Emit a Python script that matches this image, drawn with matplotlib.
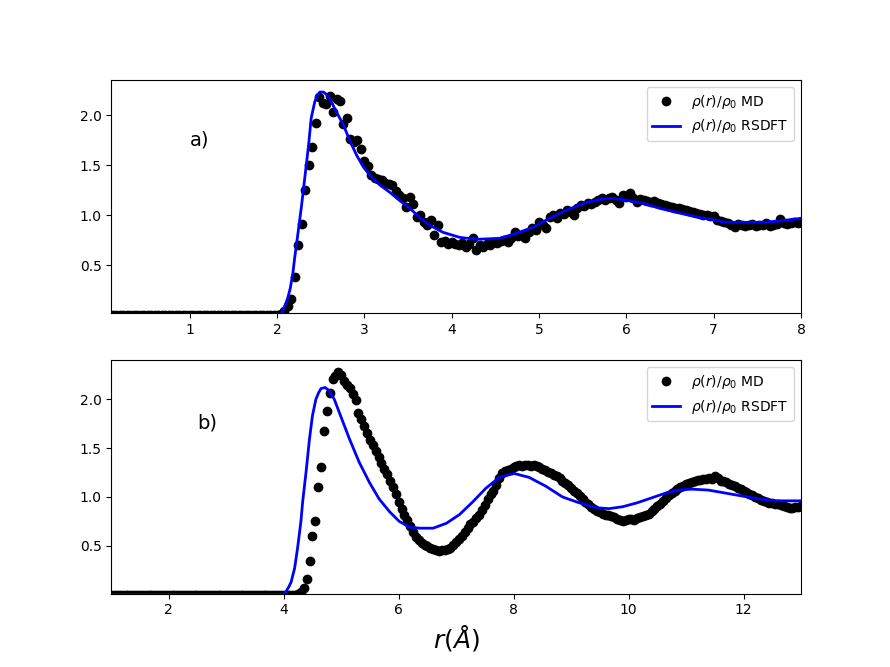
import numpy as np
import matplotlib
matplotlib.use('Agg')
import matplotlib.pyplot as plt

# a) MD points: uniform r grid (0.04) starting at 0.12, zeros before r = 2.0
g_md_a = [0.0] * 47 + [
    0.00, 0.01, 0.04, 0.09, 0.16, 0.38, 0.70, 0.91, 1.25, 1.50, 1.68, 1.92, 2.18,
    2.12, 2.11, 2.19, 2.03, 2.16, 2.14, 1.91, 1.97, 1.76, 1.73, 1.75, 1.66,
    1.54, 1.49, 1.40, 1.37, 1.36, 1.35, 1.32, 1.31, 1.30, 1.24, 1.20, 1.17, 1.08,
    1.18, 1.11, 0.98, 1.00, 0.93, 0.90, 0.95, 0.80, 0.90, 0.73, 0.74, 0.71,
    0.73, 0.71, 0.70, 0.72, 0.68, 0.71, 0.77, 0.65, 0.70, 0.68, 0.71, 0.70, 0.73,
    0.72, 0.74, 0.75, 0.73, 0.77, 0.83, 0.79, 0.80, 0.77, 0.83, 0.87, 0.85,
    0.93, 0.90, 0.87, 0.98, 1.00, 0.97, 1.02, 1.01, 1.05, 1.03, 1.00, 1.07, 1.10,
    1.09, 1.12, 1.11, 1.13, 1.15, 1.17, 1.15, 1.17, 1.18, 1.15, 1.12, 1.20,
    1.18, 1.22, 1.17, 1.13, 1.16, 1.15, 1.14, 1.13, 1.14, 1.12, 1.11, 1.10, 1.09,
    1.08, 1.07, 1.07, 1.06, 1.05, 1.04, 1.03, 1.02, 1.01, 1.00, 1.00, 0.99,
    0.99, 0.95, 0.94, 0.93, 0.92, 0.90, 0.88, 0.91, 0.90, 0.89, 0.90, 0.91, 0.89,
    0.90, 0.90, 0.92, 0.89, 0.90, 0.91, 0.96, 0.92, 0.91, 0.92, 0.93, 0.92,
    0.93]
r_md_a = 0.12 + 0.04 * np.arange(len(g_md_a))

# a) RSDFT curve
r_dft_a = [0.1, 2.00, 2.05, 2.09, 2.12, 2.15, 2.18, 2.20, 2.24, 2.28, 2.32, 2.36,
           2.39, 2.43, 2.46, 2.49, 2.53, 2.56, 2.60, 2.68, 2.76, 2.83, 2.91, 2.99,
           3.08, 3.18, 3.29, 3.40, 3.52, 3.63, 3.75, 3.90, 4.09, 4.28, 4.55, 4.74,
           4.93, 5.12, 5.31, 5.51, 5.70, 5.85, 6.00, 6.19, 6.38, 6.57, 6.77, 6.96,
           7.15, 7.34, 7.53, 7.72, 8.00]
g_dft_a = [0.0, 0.0, 0.02, 0.10, 0.17, 0.27, 0.42, 0.57, 0.83, 1.10, 1.40, 1.70,
           1.97, 2.13, 2.20, 2.23, 2.23, 2.21, 2.17, 2.03, 1.90, 1.75, 1.60, 1.48,
           1.38, 1.30, 1.23, 1.15, 1.07, 0.98, 0.90, 0.83, 0.78, 0.76, 0.77, 0.82,
           0.88, 0.97, 1.05, 1.12, 1.16, 1.17, 1.15, 1.12, 1.07, 1.03, 0.99, 0.96,
           0.93, 0.93, 0.93, 0.94, 0.97]

# b) MD points: uniform r grid (0.05) starting at 1.0, zeros up to r = 4.10
g_md_b = [0.0] * 63 + [
    0.00, 0.00, 0.01, 0.03, 0.07, 0.16, 0.34, 0.60, 0.75, 1.10, 1.31, 1.68, 1.88,
    2.06, 2.21, 2.24, 2.28,
    2.25, 2.19, 2.15, 2.12, 2.05, 1.99, 1.86, 1.80, 1.73, 1.65,
    1.58, 1.53, 1.47, 1.41, 1.35, 1.29, 1.23, 1.16, 1.10, 1.03,
    0.95, 0.88, 0.81, 0.76, 0.70, 0.64, 0.59, 0.56, 0.53, 0.51,
    0.50, 0.48, 0.47, 0.46, 0.45, 0.46, 0.46, 0.47, 0.48, 0.51,
    0.54, 0.57, 0.60, 0.64, 0.68, 0.72, 0.74, 0.78, 0.82, 0.87,
    0.92, 0.98, 1.03, 1.06, 1.12, 1.19, 1.25, 1.27, 1.28, 1.29,
    1.31, 1.32, 1.33, 1.32, 1.33, 1.33, 1.32, 1.33, 1.32, 1.31,
    1.29, 1.28, 1.26, 1.24, 1.22, 1.21, 1.19, 1.16, 1.14, 1.12,
    1.09, 1.06, 1.04, 1.01, 0.98, 0.95, 0.93, 0.90, 0.88, 0.86,
    0.85, 0.83, 0.82, 0.81, 0.80, 0.79, 0.77, 0.76, 0.75, 0.76,
    0.77, 0.77, 0.76, 0.78, 0.79, 0.80, 0.82, 0.83, 0.86, 0.88,
    0.91, 0.93, 0.96, 0.99, 1.02, 1.04, 1.06, 1.08, 1.10, 1.11,
    1.13, 1.14, 1.15, 1.16, 1.17, 1.17, 1.18, 1.18, 1.19, 1.18,
    1.21, 1.19, 1.16, 1.16, 1.15, 1.13, 1.12, 1.11, 1.09, 1.08,
    1.06, 1.05, 1.03, 1.02, 1.00, 0.99, 0.97, 0.96, 0.95, 0.94,
    0.94, 0.93, 0.93, 0.92, 0.91, 0.90, 0.89, 0.89, 0.90, 0.90,
    0.91]
r_md_b = 1.0 + 0.05 * np.arange(len(g_md_b))

# b) RSDFT curve
r_dft_b = [1.0, 4.00, 4.04, 4.09, 4.13, 4.19, 4.24, 4.30, 4.33, 4.39, 4.45, 4.50,
           4.56, 4.61, 4.65, 4.72, 4.79, 4.88, 4.99, 5.14, 5.31, 5.49, 5.66, 5.84,
           6.01, 6.19, 6.37, 6.60, 6.83, 7.06, 7.29, 7.52, 7.75, 8.01, 8.27, 8.56,
           8.85, 9.14, 9.43, 9.66, 9.90, 10.15, 10.40, 10.65, 10.87, 11.10, 11.39,
           11.68, 11.97, 12.26, 12.55, 12.80, 13.00]
g_dft_b = [0.0, 0.0, 0.03, 0.08, 0.13, 0.27, 0.47, 0.75, 0.95, 1.26, 1.60, 1.83,
           2.00, 2.07, 2.11, 2.12, 2.09, 2.00, 1.83, 1.60, 1.36, 1.15, 0.98, 0.85,
           0.75, 0.69, 0.68, 0.68, 0.73, 0.82, 0.95, 1.09, 1.20, 1.24, 1.20, 1.11,
           1.00, 0.94, 0.89, 0.88, 0.90, 0.94, 0.99, 1.04, 1.07, 1.08, 1.07,
           1.04, 1.01, 0.98, 0.96, 0.96, 0.96]

lab_md = r'$\rho(r)/\rho_0$ MD'
lab_dft = r'$\rho(r)/\rho_0$ RSDFT'

fig = plt.figure(figsize=(8.9, 6.67), dpi=100)

ax1 = plt.subplot(2, 1, 1)
ax1.plot(r_md_a, g_md_a, 'ko', label=lab_md)
ax1.plot(r_dft_a, g_dft_a, 'b-', lw=2, label=lab_dft)
ax1.set_xlim(0.1, 8)
ax1.set_ylim(0.02, 2.35)
ax1.text(1.0, 1.7, 'a)', fontsize=14)
ax1.legend(loc='upper right')

ax2 = plt.subplot(2, 1, 2)
ax2.plot(r_md_b, g_md_b, 'ko', label=lab_md)
ax2.plot(r_dft_b, g_dft_b, 'b-', lw=2, label=lab_dft)
ax2.set_xlim(1, 13)
ax2.set_ylim(0.01, 2.4)
ax2.text(2.5, 1.7, 'b)', fontsize=14)
ax2.legend(loc='upper right')
ax2.set_xlabel(r'$r(\AA)$', fontsize=18)

plt.savefig('out.png', dpi=100)
